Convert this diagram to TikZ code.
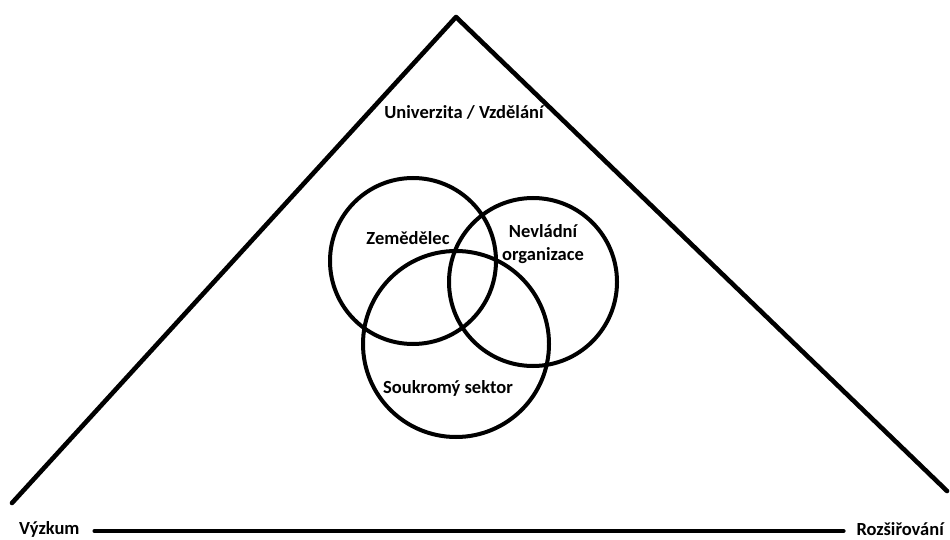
\documentclass[tikz,border=0pt]{standalone}
\usepackage{fontspec}
\setmainfont{Carlito}
\begin{document}
\begin{tikzpicture}[x=1pt,y=-1pt,
  lbl/.style={font=\fontsize{18.5}{22.5}\selectfont\bfseries, inner sep=0pt, align=center},
  ring/.style={draw, circle, line width=4pt, inner sep=0pt},
  edge/.style={line width=4.6pt, line cap=round, line join=round}]
\useasboundingbox (0,0) rectangle (950,540);
\coordinate (apex) at (456,17);
\coordinate (bl) at (12,503);
\coordinate (br) at (947,491);
\draw[edge] (bl) -- (apex) -- (br);
\node[ring, minimum size=166pt] (farmer) at (413,261) {};
\node[ring, minimum size=168pt] (ngo) at (533,282) {};
\node[ring, minimum size=186pt] (priv) at (456,344) {};
\node[lbl] (uni) at (464,112) {Univerzita / Vzdělání};
\node[lbl] (tfarmer) at (408,238) {Zemědělec};
\node[lbl] (tngo) at (543,244) {Nevládní\\organizace};
\node[lbl] (tpriv) at (448,388) {Soukromý sektor};
\node[lbl, anchor=west] (vyz) at (19,529) {Výzkum};
\node[lbl, anchor=east] (roz) at (944,529) {Rozšiřování};
\coordinate (ls) at ([xshift=15pt,yshift=-2pt]vyz.east);
\coordinate (le) at ([xshift=-13pt]roz.west |- ls);
\draw[edge] (ls) -- (le);
\end{tikzpicture}
\end{document}
